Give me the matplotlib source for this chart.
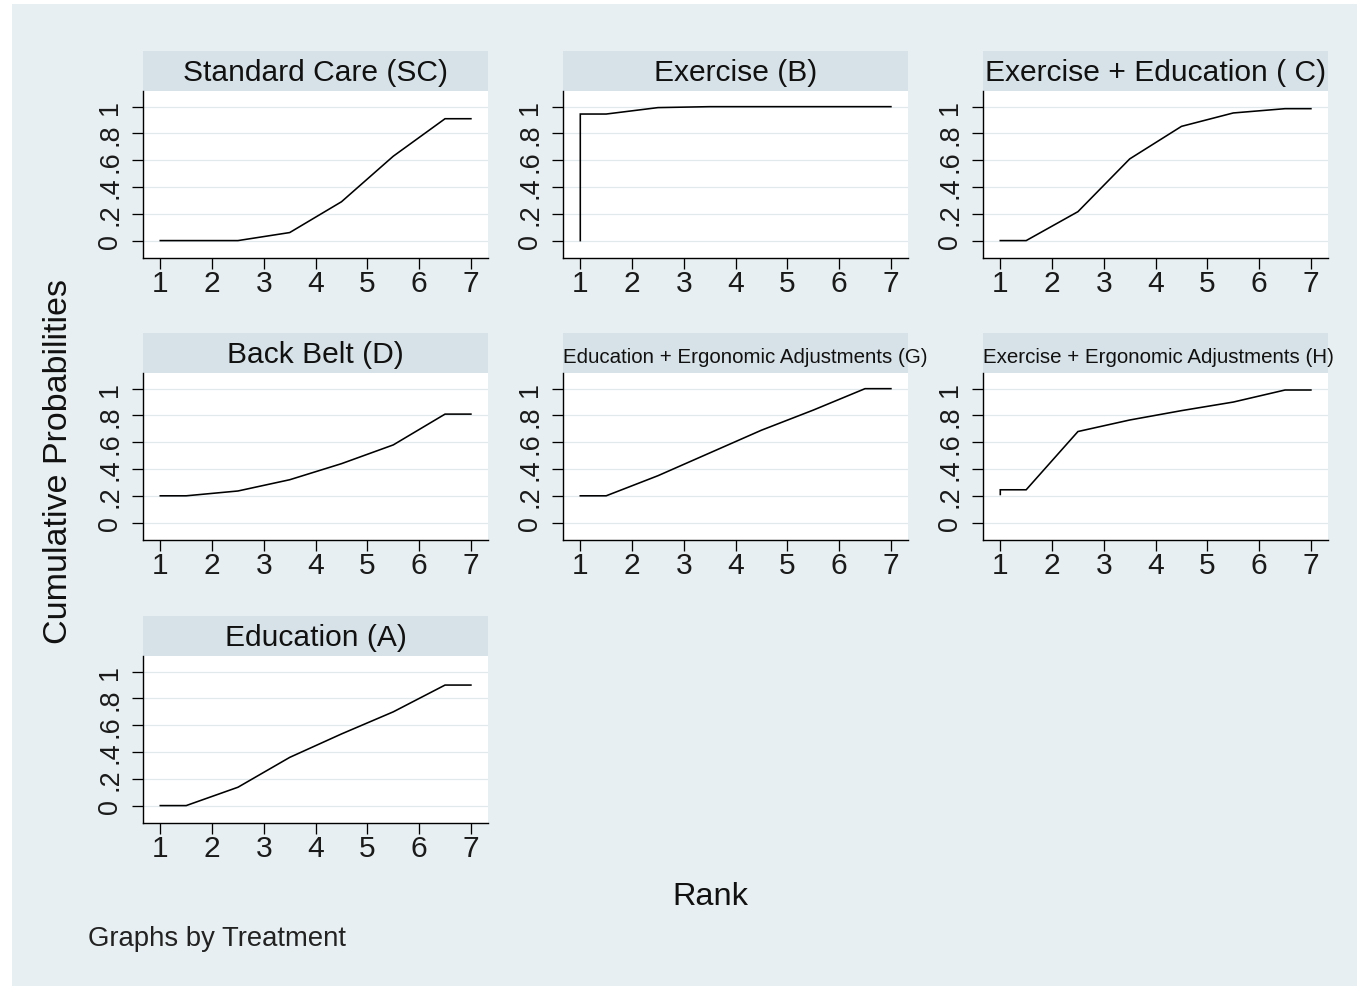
import matplotlib
matplotlib.use("Agg")
import matplotlib.pyplot as plt
from matplotlib.patches import Rectangle

# ---- data -------------------------------------------------------------
rank_ticks = [1, 2, 3, 4, 5, 6, 7]
prob_ticks = [0, 0.2, 0.4, 0.6, 0.8, 1.0]
prob_tick_labels = ["0", ".2", ".4", ".6", ".8", "1"]

curve_ranks = [1, 1.5, 2.5, 3.5, 4.5, 5.5, 6.5, 7]
jump_ranks = [1, 1, 1.5, 2.5, 3.5, 4.5, 5.5, 6.5, 7]

sc_cum = [0, 0, 0, 0.06, 0.29, 0.63, 0.91, 0.91]
b_cum = [0, 0.945, 0.945, 0.993, 1.0, 1.0, 1.0, 1.0, 1.0]
c_cum = [0, 0, 0.216, 0.61, 0.853, 0.953, 0.985, 0.985]
d_cum = [0.2, 0.2, 0.236, 0.32, 0.44, 0.58, 0.81, 0.81]
g_cum = [0.2, 0.2, 0.35, 0.52, 0.69, 0.84, 1.0, 1.0]
h_cum = [0.21, 0.245, 0.245, 0.68, 0.766, 0.836, 0.90, 0.99, 0.99]
a_cum = [0, 0, 0.137, 0.36, 0.535, 0.70, 0.90, 0.90]

treatments = [
    "Standard Care (SC)",
    "Exercise (B)",
    "Exercise + Education ( C)",
    "Back Belt (D)",
    "Education + Ergonomic Adjustments (G)",
    "Exercise + Ergonomic Adjustments (H)",
    "Education (A)",
]
series_x = [curve_ranks, jump_ranks, curve_ranks, curve_ranks,
            curve_ranks, jump_ranks, curve_ranks]
series_y = [sc_cum, b_cum, c_cum, d_cum, g_cum, h_cum, a_cum]

# ---- style ------------------------------------------------------------
W, H = 1357, 987
DPI = 100
BG = "#e8eff2"
STRIP = "#d7e2e8"
GRID = "#e1e9ed"
SANS = ["Liberation Sans", "DejaVu Sans"]

def px(v):
    return v * 72.0 / DPI

fig = plt.figure(figsize=(W / DPI, H / DPI), dpi=DPI, facecolor="white")
fig.patches.append(Rectangle((12 / W, 0), (W - 12) / W, (H - 5) / H,
                             transform=fig.transFigure, facecolor=BG,
                             edgecolor="none", zorder=-10))

col_left = [143, 563, 983]
row_top = [92, 374, 657]
ax_w, ax_h = 345, 167
strip_h = 40

for i, (name, xs, ys) in enumerate(zip(treatments, series_x, series_y)):
    r, c = divmod(i, 3)
    left = col_left[c]
    top = row_top[r]
    ax = fig.add_axes([left / W, (H - top - ax_h) / H, ax_w / W, ax_h / H])
    ax.set_facecolor("white")
    ax.plot(xs, ys, color="black", lw=px(1.6), solid_joinstyle="miter",
            zorder=3)
    ax.set_xlim(0.666, 7.33)
    ax.set_ylim(-0.13, 1.117)
    ax.set_xticks(rank_ticks)
    ax.set_yticks(prob_ticks)
    ax.set_yticklabels(prob_tick_labels, rotation=90, va="center")
    for lab in ax.get_xticklabels():
        lab.set_family(SANS)
        lab.set_fontsize(px(30))
        lab.set_color("#1a1a1a")
    for lab in ax.get_yticklabels():
        lab.set_family(SANS)
        lab.set_fontsize(px(27))
        lab.set_color("#1a1a1a")
    ax.tick_params(axis="both", length=px(11), width=px(1.3),
                   color="black", direction="out")
    ax.tick_params(axis="x", pad=px(0))
    ax.tick_params(axis="y", pad=px(9))
    ax.grid(axis="y", color=GRID, lw=px(1.2), zorder=0)
    ax.set_axisbelow(True)
    for s in ("top", "right"):
        ax.spines[s].set_visible(False)
    for s in ("left", "bottom"):
        ax.spines[s].set_linewidth(px(1.4))
        ax.spines[s].set_color("black")

    # title strip above each panel
    sh = strip_h / ax_h
    ax.add_patch(Rectangle((0, 1), 1, sh, transform=ax.transAxes,
                           facecolor=STRIP, edgecolor="none",
                           clip_on=False, zorder=1))
    base = 11 / ax_h
    if len(name) > 30:
        ax.text(0.0, 1 + base, name, transform=ax.transAxes, ha="left",
                va="baseline", fontsize=px(20.5), family=SANS,
                color="#111111", clip_on=False)
    else:
        ax.text(0.5, 1 + base, name, transform=ax.transAxes, ha="center",
                va="baseline", fontsize=px(30), family=SANS,
                color="#111111", clip_on=False)

fig.text(59 / W, 1 - 462 / H, "Cumulative Probabilities", rotation=90,
         ha="center", va="center", fontsize=px(34), family=SANS,
         color="#111111")
fig.text(710 / W, 1 - 897 / H, "Rank", ha="center", va="center",
         fontsize=px(32.5), family=SANS, color="#111111")
fig.text(88 / W, 1 - 946 / H, "Graphs by Treatment", ha="left",
         va="baseline", fontsize=px(27.5), family=SANS, color="#222222")

fig.savefig("out.png", dpi=DPI, facecolor=fig.get_facecolor())
